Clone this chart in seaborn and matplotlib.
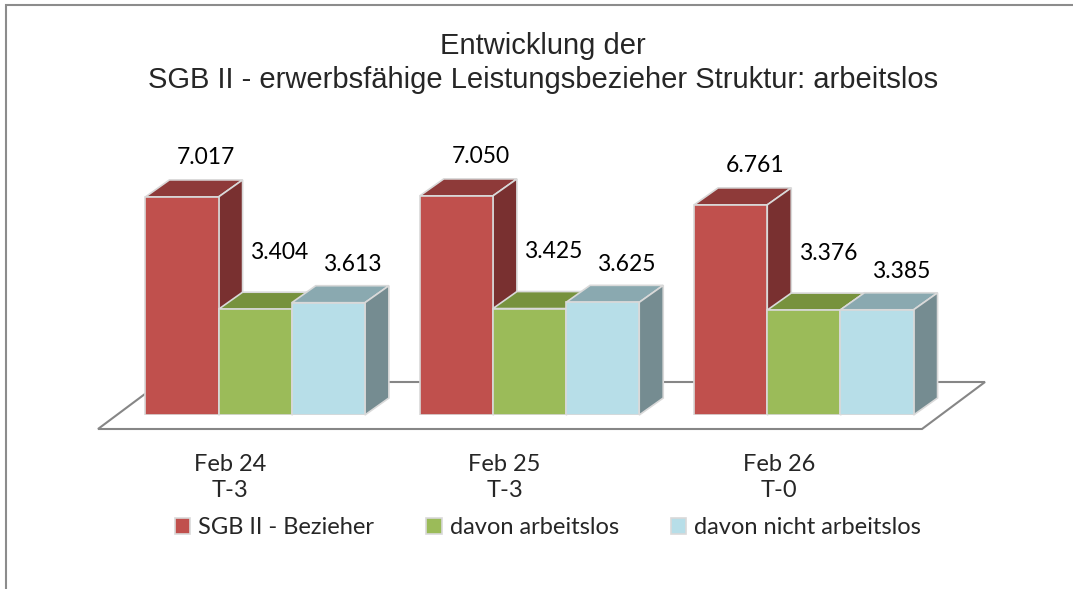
import numpy as np
import pandas as pd
import seaborn as sns
import matplotlib.pyplot as plt
from matplotlib.patches import Polygon, Rectangle
from matplotlib.transforms import ScaledTranslation

# data
periods = ["Feb 24\nT-3", "Feb 25\nT-3", "Feb 26\nT-0"]
series = ["SGB II - Bezieher", "davon arbeitslos", "davon nicht arbeitslos"]
bezieher = [7017, 7050, 6761]
arbeitslos = [3404, 3425, 3376]
nicht_arbeitslos = [3613, 3625, 3385]

front = ["#C0504D", "#9BBB59", "#B7DEE8"]
top = ["#8E3A39", "#77923D", "#8AA9B0"]
side = ["#793030", "#637C33", "#758C91"]
label_off = [22, 40, 21]  # px above the back edge

df = pd.DataFrame({
    "Zeitraum": periods * 3,
    "Reihe": np.repeat(series, 3),
    "Wert": bezieher + arbeitslos + nicht_arbeitslos,
})

sns.set_theme(style="white")
plt.rcParams["font.family"] = ["Lato", "DejaVu Sans"]

W, H = 1073, 589
fig = plt.figure(figsize=(W / 100, H / 100), dpi=100)
ax_l, ax_r, ax_b, ax_t = 118, 941, 415, 130
ax = fig.add_axes([ax_l / W, (H - ax_b) / H, (ax_r - ax_l) / W, (ax_b - ax_t) / H])

sns.barplot(data=df, x="Zeitraum", y="Wert", hue="Reihe", palette=front,
            width=0.8, saturation=1, edgecolor="#D9D9D9", linewidth=1.2, ax=ax)

ymax = 9170
ax.set_xlim(-0.5, 2.5)
ax.set_ylim(0, ymax)

# depth of the pseudo-3d boxes, px -> data
dx = 24 * 3 / (ax_r - ax_l)
dy = 17 * ymax / (ax_b - ax_t)

for i, cont in enumerate(ax.containers):
    for bar in cont:
        x0, w, h = bar.get_x(), bar.get_width(), bar.get_height()
        x1 = x0 + w
        bar.set_zorder(3 + i)
        ax.add_patch(Polygon([(x0, h), (x1, h), (x1 + dx, h + dy), (x0 + dx, h + dy)],
                             closed=True, facecolor=top[i], edgecolor="#D9D9D9",
                             lw=1.2, zorder=2.6 + i, clip_on=False))
        ax.add_patch(Polygon([(x1, 0), (x1, h), (x1 + dx, h + dy), (x1 + dx, dy)],
                             closed=True, facecolor=side[i], edgecolor="#D9D9D9",
                             lw=1.2, zorder=2.6 + i, clip_on=False))
        ax.annotate(f"{h:,.0f}".replace(",", "."), xy=(x0 + w / 2 + dx, h + dy),
                    xytext=(0, label_off[i] * 0.72), textcoords="offset points",
                    ha="center", va="center", fontsize=16.5, color="black",
                    zorder=10, annotation_clip=False)

# floor
def to_ax(px, py):
    return ((px - ax_l) / (ax_r - ax_l), (ax_b - py) / (ax_b - ax_t))

floor = [to_ax(98, 429), to_ax(922, 429), to_ax(985, 382), to_ax(161, 382)]
ax.add_patch(Polygon(floor, closed=True, facecolor="white", edgecolor="#868686",
                     lw=1.5, transform=ax.transAxes, zorder=1, clip_on=False))

for s in ax.spines.values():
    s.set_visible(False)
ax.set_yticks([])
ax.set_xlabel("")
ax.set_ylabel("")
ax.tick_params(axis="x", length=0, pad=28, labelsize=17)
shift = ScaledTranslation(-25 / 100, 0, fig.dpi_scale_trans)
for lab in ax.get_xticklabels():
    lab.set_transform(lab.get_transform() + shift)
    lab.set_linespacing(1.3)

sns.move_legend(ax, "center", bbox_to_anchor=(548 / W, 1 - 528 / H),
                bbox_transform=fig.transFigure, ncol=3, frameon=False, title=None,
                fontsize=17, handlelength=0.65, handleheight=0.65,
                handletextpad=0.35, columnspacing=2.2)

fig.text(543 / W, 1 - 63 / H,
         "Entwicklung der\nSGB II - erwerbsfähige Leistungsbezieher Struktur: arbeitslos",
         ha="center", va="center", fontsize=21, family="Liberation Sans",
         linespacing=1.25)

fig.add_artist(Rectangle((6 / W, -0.05), 1.2, 1.05 - 5 / H, transform=fig.transFigure,
                         fill=False, edgecolor="#8C8C8C", lw=1.5))

fig.savefig("out.png", dpi=100)
